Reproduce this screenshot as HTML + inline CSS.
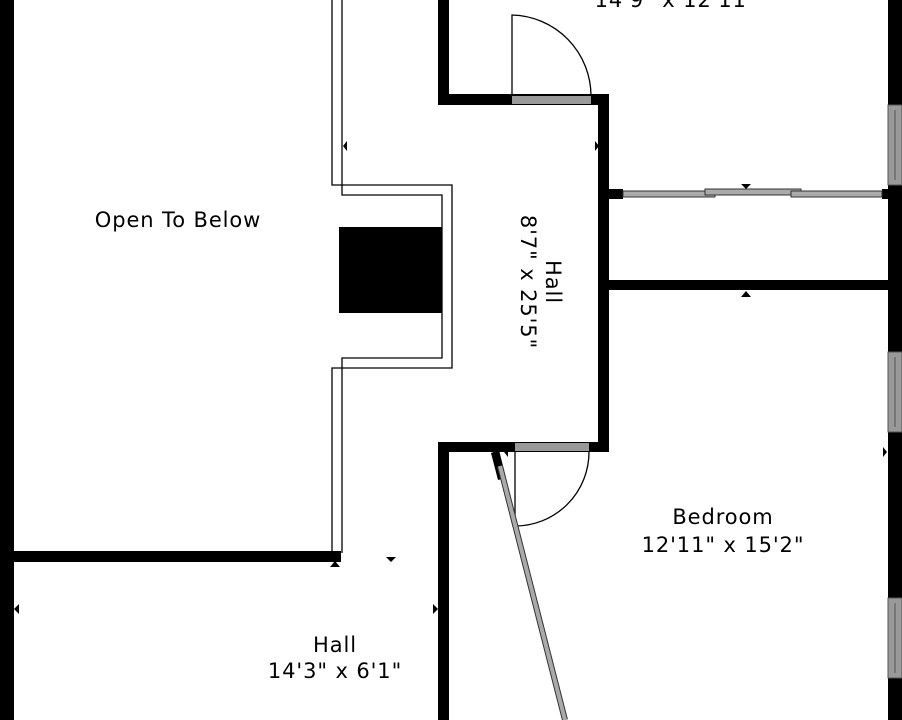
<!DOCTYPE html>
<html><head><style>
body{margin:0;background:#fff;width:902px;height:720px;overflow:hidden}
svg{display:block}
text{font-family:"DejaVu Sans","Liberation Sans",sans-serif;font-size:21px;letter-spacing:0.9px;fill:#000}
</style></head><body>
<svg width="902" height="720" viewBox="0 0 902 720">
<rect x="0" y="0" width="14" height="720" fill="#000"/>
<rect x="0" y="551" width="341" height="11" fill="#000"/>
<rect x="438" y="0" width="11" height="105" fill="#000"/>
<rect x="438" y="94" width="171" height="11" fill="#000"/>
<rect x="598" y="94" width="11" height="358" fill="#000"/>
<rect x="438" y="442" width="171" height="10" fill="#000"/>
<rect x="438" y="442" width="11" height="278" fill="#000"/>
<rect x="609" y="280" width="280" height="10" fill="#000"/>
<rect x="888" y="0" width="14" height="720" fill="#000"/>
<g fill="#999" stroke="#555" stroke-width="1">
<rect x="888" y="105" width="14" height="80"/>
<rect x="888" y="352" width="14" height="80"/>
<rect x="888" y="598" width="14" height="80"/>
</g>
<line x1="895" y1="110" x2="895" y2="180" stroke="#555"/>
<line x1="895" y1="357" x2="895" y2="427" stroke="#555"/>
<line x1="895" y1="603" x2="895" y2="673" stroke="#555"/>
<rect x="512" y="96" width="79" height="8" fill="#999"/>
<path d="M512 96 L512 15 A81 81 0 0 1 591 96" fill="none" stroke="#000" stroke-width="1.3"/>
<rect x="515" y="443" width="74" height="8" fill="#999"/>
<path d="M515 452 L515 526 A74 74 0 0 0 589 452" fill="none" stroke="#000" stroke-width="1.3"/>
<rect x="609" y="189" width="14" height="10" fill="#000"/>
<rect x="882" y="189" width="8" height="10" fill="#000"/>
<g fill="#aaa" stroke="#333" stroke-width="1">
<rect x="623" y="191" width="92" height="6"/>
<rect x="705" y="189" width="96" height="6"/>
<rect x="791" y="191" width="91" height="6"/>
</g>
<polygon points="491,453 499,450 506,478 498,480" fill="#000"/>
<line x1="500" y1="466" x2="565" y2="720" stroke="#333" stroke-width="6"/>
<line x1="500" y1="466" x2="565" y2="720" stroke="#aaa" stroke-width="4"/>
<path d="M332 0 V185 H452 V368 H332 V553" fill="none" stroke="#000" stroke-width="1.3"/>
<path d="M342 0 V195 H442 V358 H342 V553" fill="none" stroke="#000" stroke-width="1.3"/>
<rect x="339" y="227" width="103" height="86" fill="#000"/>
<g fill="#000">
<polygon points="343,141 347,146 343,151" transform="rotate(180 345 146)"/>
<polygon points="595,141 599,146 595,151"/>
<polygon points="741,184 751,184 746,189"/>
<polygon points="741,297 751,297 746,291"/>
<polygon points="386,557 396,557 391,562"/>
<polygon points="330,567 340,567 335,561"/>
<polygon points="14,609 19,604 19,614"/>
<polygon points="438,609 433,604 433,614"/>
<polygon points="887,452 883,447 883,457"/>
<polygon points="504,452 508,447 508,457"/>
</g>
<text x="676" y="7" text-anchor="middle">14'9" x 12'11"</text>
<text x="178" y="227" text-anchor="middle">Open To Below</text>
<g transform="translate(540,282) rotate(90)">
<text x="0" y="-6" text-anchor="middle">Hall</text>
<text x="0" y="19" text-anchor="middle">8'7" x 25'5"</text>
</g>
<text x="723" y="524" text-anchor="middle">Bedroom</text>
<text x="723" y="552" text-anchor="middle">12'11" x 15'2"</text>
<text x="335" y="652" text-anchor="middle">Hall</text>
<text x="335" y="678" text-anchor="middle">14'3" x 6'1"</text>
</svg>
</body></html>
